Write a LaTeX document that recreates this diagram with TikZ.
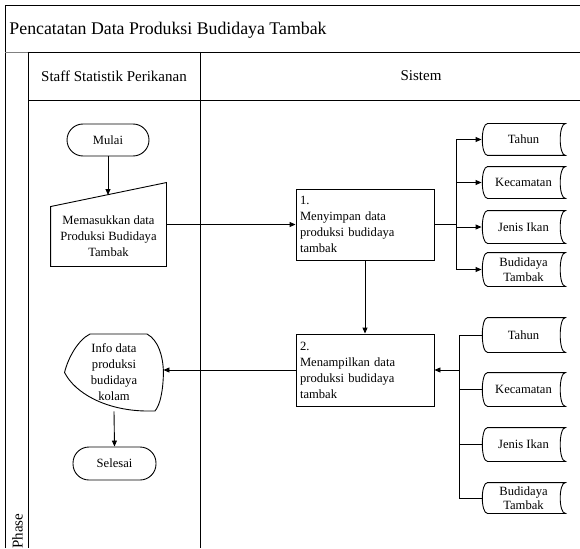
\documentclass[tikz,border=0pt]{standalone}
\usepackage{fontspec}
\setmainfont{Liberation Serif}
\usetikzlibrary{arrows.meta}
\newcommand{\sdshape}[1]{\draw ([xshift=6pt]#1.north west) .. controls ([xshift=-1pt]#1.north west) and ([xshift=-1pt]#1.south west) .. ([xshift=6pt]#1.south west) -- (#1.south east) .. controls ([xshift=-7pt]#1.south east) and ([xshift=-7pt]#1.north east) .. (#1.north east) -- cycle;}
\begin{document}
\begin{tikzpicture}[x=1pt,y=-1pt,line width=0.9pt,
  body/.style={font=\fontsize{12.6}{16}\selectfont},
  term/.style={draw, rounded corners=16pt, minimum width=82pt, minimum height=32pt, inner sep=0pt, body},
  proc/.style={draw, minimum width=138pt, minimum height=71pt, text width=130pt, align=left, inner sep=4pt, body},
  sdnode/.style={minimum width=83pt, minimum height=31pt, inner sep=0pt, align=center, font=\fontsize{12.6}{14.5}\selectfont},
  plain/.style={inner sep=0pt, align=center, body},
  arr/.style={-{Triangle[length=6pt,width=5pt]}},
  hdr/.style={font=\fontsize{15}{18}\selectfont}]
\useasboundingbox (0,0) rectangle (580,548);
\clip (0,0) rectangle (580,548);
\fill[white] (0,0) rectangle (580,548);
% frame
\draw (5,548) -- (5,5) -- (580,5);
\draw[gray] (5,52) -- (28,52);
\draw (28,52) -- (580,52);
\draw (28,52) -- (28,548);
\draw (28,100) -- (580,100);
\draw (200,52) -- (200,548);
\node[anchor=west, inner sep=0pt, font=\fontsize{17.8}{20}\selectfont] (title) at (9,30) {Pencatatan Data Produksi Budidaya Tambak};
\node[hdr] (h1) at (114,76) {Staff Statistik Perikanan};
\node[hdr] (h2) at (421,76) {Sistem};
\node[hdr, rotate=90, inner sep=0pt] (phase) at (17.5,531) {Phase};
% left lane
\node[term] (mulai) at (108,140) {Mulai};
\node[plain, minimum width=115pt, minimum height=59pt] (inp) at (108.5,236.5) {Memasukkan data\\Produksi Budidaya\\Tambak};
\draw (inp.south west) -- (inp.north west) -- ([yshift=24pt]inp.north east) -- (inp.south east) -- cycle;
\coordinate (inptop) at (108,195);
\draw[arr] (mulai.south) -- (inptop);
\node[plain, minimum width=98pt, minimum height=77pt] (info) at (114,372.5) {Info data\\produksi\\budidaya\\kolam};
\draw ([shift={(-24,-38.5)}]info.center) -- ([shift={(33,-38.5)}]info.center)
  .. controls ([shift={(44,-32.5)}]info.center) and ([shift={(49,-17.5)}]info.center) .. (info.east)
  .. controls ([shift={(49,19.5)}]info.center) and ([shift={(46,32.5)}]info.center) .. ([shift={(41,38.5)}]info.center)
  -- ([shift={(31,38.5)}]info.center)
  .. controls ([shift={(-9,37.5)}]info.center) and ([shift={(-39,20.5)}]info.center) .. (info.west)
  .. controls ([shift={(-46,-14.5)}]info.center) and ([shift={(-36,-32.5)}]info.center) .. ([shift={(-24,-38.5)}]info.center) -- cycle;
\node[term, minimum width=83pt, minimum height=33pt] (selesai) at (114.5,463.5) {Selesai};
\draw[arr] (info.south) -- (selesai.north);
% processes
\node[proc] (p1) at (365,224.5) {1.\\Menyimpan data\\produksi budidaya\\tambak};
\node[proc, minimum height=72pt] (p2) at (365,370) {2.\\Menampilkan data\\produksi budidaya\\tambak};
\draw[arr] (inp.east |- p1.west) -- (p1.west);
\draw[arr] (p1.south) -- (p2.north);
\draw[arr] (p2.west) -- (p2.west -| info.east);
% stored data top
\node[sdnode] (a1) at (523.5,139.5) {Tahun};
\node[sdnode] (a2) at (523.5,182.5) {Kecamatan};
\node[sdnode, minimum height=32pt] (a3) at (523.5,227) {Jenis Ikan};
\node[sdnode, minimum height=33pt] (a4) at (523.5,269.5) {Budidaya\\Tambak};
\foreach \n in {a1,a2,a3,a4} {\sdshape{\n}}
\coordinate (ja) at (456,224.5);
\draw (p1.east) -- (ja);
\draw (ja |- a1.west) -- (ja |- a4.west);
\foreach \n in {a1,a2,a3,a4} {\draw[arr] (ja |- \n.west) -- (\n.west);}
% stored data bottom
\node[sdnode, minimum height=34pt] (b1) at (523.5,335) {Tahun};
\node[sdnode, minimum height=33pt] (b2) at (523.5,389.5) {Kecamatan};
\node[sdnode, minimum height=33pt] (b3) at (523.5,444.5) {Jenis Ikan};
\node[sdnode, minimum height=30pt] (b4) at (523.5,498) {Budidaya\\Tambak};
\foreach \n in {b1,b2,b3,b4} {\sdshape{\n}}
\coordinate (jb) at (459,370);
\draw (jb |- b1.west) -- (jb |- b4.west);
\foreach \n in {b1,b2,b3,b4} {\draw (jb |- \n.west) -- (\n.west);}
\draw[arr] (jb) -- (p2.east);
\end{tikzpicture}
\end{document}
